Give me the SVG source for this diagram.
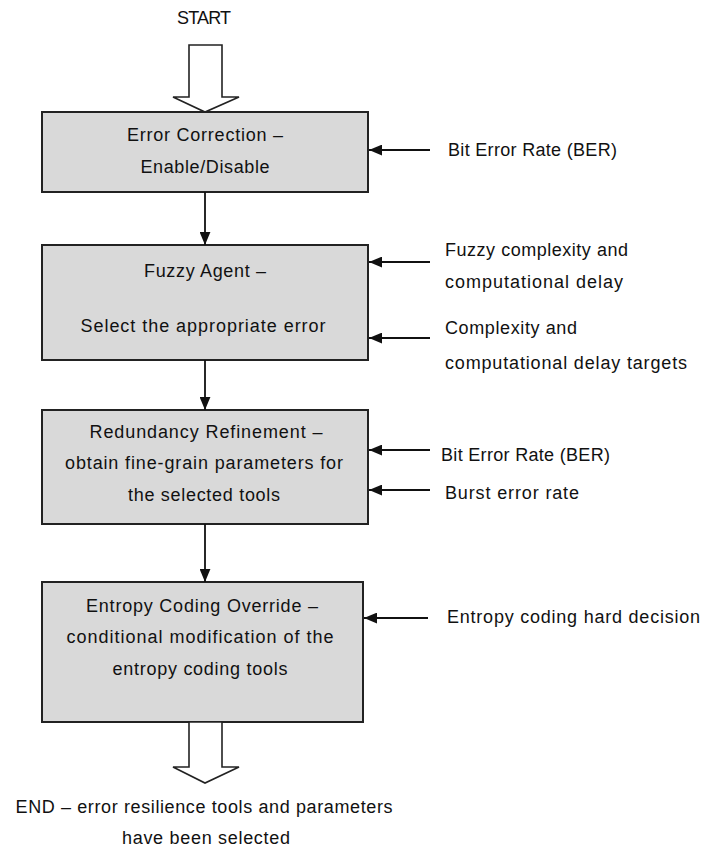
<svg xmlns="http://www.w3.org/2000/svg" width="701" height="847" viewBox="0 0 701 847">
<style>
text{font-family:"Liberation Sans",Arial,sans-serif;font-size:18px;fill:#111}
.c{text-anchor:middle}
.box{fill:#d9d9d9;stroke:#222;stroke-width:2}
.hollow{fill:#fff;stroke:#222;stroke-width:1.6;stroke-linejoin:miter}
.ln{stroke:#111;stroke-width:1.8;fill:none}
</style>
<defs>
<marker id="ah2" viewBox="0 0 12 10" refX="12" refY="5" markerWidth="13" markerHeight="11" markerUnits="userSpaceOnUse" orient="auto">
<path d="M0,0 L12,5 L0,10 z" fill="#111"/>
</marker>
</defs>
<rect width="701" height="847" fill="#fff"/>

<g id="start">
<text class="c" x="204" y="24" textLength="54">START</text>
<path class="hollow" d="M189,45 L222,45 L222,97 L239,97 L205,112 L173,97 L189,97 Z"/>
</g>

<g id="box1">
<rect class="box" x="42" y="112" width="326" height="80"/>
<text class="c" x="205" y="141" textLength="156">Error Correction –</text>
<text class="c" x="205" y="173" textLength="129">Enable/Disable</text>
</g>

<g id="box2">
<rect class="box" x="42" y="245" width="326" height="115"/>
<text class="c" x="205" y="277" textLength="122">Fuzzy Agent –</text>
<text class="c" x="203" y="332" textLength="245">Select the appropriate error</text>
</g>

<g id="box3">
<rect class="box" x="42" y="410" width="326" height="114"/>
<text class="c" x="206" y="438" textLength="233">Redundancy Refinement –</text>
<text class="c" x="204" y="469" textLength="278">obtain fine-grain parameters for</text>
<text class="c" x="204" y="501" textLength="152">the selected tools</text>
</g>

<g id="box4">
<rect class="box" x="42" y="582" width="321" height="140"/>
<text class="c" x="202" y="612" textLength="232">Entropy Coding Override –</text>
<text class="c" x="200" y="643" textLength="267">conditional modification of the</text>
<text class="c" x="200" y="675" textLength="175">entropy coding tools</text>
</g>

<g id="end">
<path class="hollow" d="M189,722 L222,722 L222,767 L239,767 L205,783 L173,767 L189,767 Z"/>
<text class="c" x="204" y="813" textLength="377">END – error resilience tools and parameters</text>
<text class="c" x="206" y="844" textLength="168">have been selected</text>
</g>

<g id="inputs">
<text x="448" y="156" textLength="169">Bit Error Rate (BER)</text>
<text x="445" y="256" textLength="183">Fuzzy complexity and</text>
<text x="445" y="288" textLength="178">computational delay</text>
<text x="445" y="334" textLength="132">Complexity and</text>
<text x="445" y="369" textLength="242">computational delay targets</text>
<text x="441" y="461" textLength="169">Bit Error Rate (BER)</text>
<text x="445" y="499" textLength="134">Burst error rate</text>
<text x="447" y="623" textLength="253">Entropy coding hard decision</text>
</g>

<g id="connectors">
<line class="ln" x1="205" y1="192" x2="205" y2="245" marker-end="url(#ah2)"/>
<line class="ln" x1="205" y1="360" x2="205" y2="410" marker-end="url(#ah2)"/>
<line class="ln" x1="205" y1="524" x2="205" y2="582" marker-end="url(#ah2)"/>
<line class="ln" x1="430" y1="150" x2="369" y2="150" marker-end="url(#ah2)"/>
<line class="ln" x1="430" y1="262" x2="369" y2="262" marker-end="url(#ah2)"/>
<line class="ln" x1="430" y1="338" x2="369" y2="338" marker-end="url(#ah2)"/>
<line class="ln" x1="430" y1="450" x2="369" y2="450" marker-end="url(#ah2)"/>
<line class="ln" x1="430" y1="490" x2="369" y2="490" marker-end="url(#ah2)"/>
<line class="ln" x1="428" y1="618" x2="364" y2="618" marker-end="url(#ah2)"/>
</g>
</svg>
